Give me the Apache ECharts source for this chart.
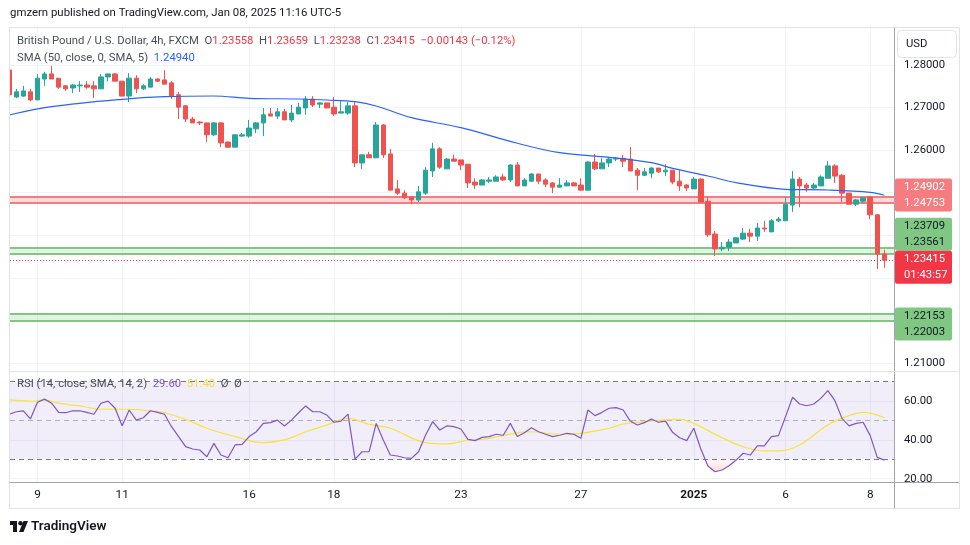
<!DOCTYPE html>
<html>
<head>
<meta charset="utf-8">
<script src="https://cdn.jsdelivr.net/npm/echarts@6.0.0/dist/echarts.min.js"></script>
<style>
html,body{margin:0;padding:0;background:#ffffff;}
#chart{width:970px;height:545px;}
</style>
</head>
<body>
<div id="chart"></div>
<script>
// ---------- DATA (GBP/USD 4h, FXCM) ----------
const firstIdx = -1;
const openP = [
1.2788,1.2725,1.2727,1.2737,1.2718,1.2767,1.2779,1.2769,1.2751,1.2746,
1.2751,1.2753,1.2751,1.2744,1.2772,1.2779,1.2762,1.2727,1.2769,1.2744,
1.2748,1.2767,1.2765,1.2758,1.2730,1.2704,1.2673,1.2666,1.2664,1.2636,
1.2664,1.2619,1.2607,1.2633,1.2633,1.2650,1.2664,1.2685,1.2680,1.2690,
1.2671,1.2685,1.2699,1.2720,1.2708,1.2711,1.2701,1.2687,1.2687,1.2704,
1.2570,1.2589,1.2582,1.2659,1.2591,1.2509,1.2499,1.2490,1.2483,1.2499,
1.2551,1.2603,1.2556,1.2579,1.2577,1.2567,1.2525,1.2518,1.2527,1.2527,
1.2537,1.2530,1.2565,1.2516,1.2527,1.2544,1.2530,1.2523,1.2513,1.2516,
1.2523,1.2518,1.2506,1.2572,1.2556,1.2570,1.2579,1.2581,1.2579,1.2553,
1.2541,1.2546,1.2558,1.2549,1.2553,1.2527,1.2518,1.2509,1.2532,1.2480,
1.2403,1.2368,1.2372,1.2382,1.2391,1.2405,1.2398,1.2417,1.2408,1.2434,
1.2434,1.2471,1.2532,1.2518,1.2511,1.2516,1.2534,1.2563,1.2541,1.2499,
1.2473,1.2480,1.2490,1.2448,1.23558];
const highP = [
1.2798,1.2744,1.2751,1.2744,1.2779,1.2784,1.2798,1.2769,1.2753,1.2755,
1.2762,1.2762,1.2762,1.2779,1.2779,1.2781,1.2762,1.2781,1.2776,1.2755,
1.2772,1.2769,1.2788,1.2762,1.2737,1.2706,1.2678,1.2668,1.2664,1.2666,
1.2666,1.2621,1.2636,1.2640,1.2671,1.2666,1.2699,1.2699,1.2699,1.2697,
1.2706,1.2711,1.2727,1.2727,1.2713,1.2711,1.2725,1.2715,1.2713,1.2713,
1.2589,1.2596,1.2666,1.2661,1.2603,1.2530,1.2506,1.2490,1.2516,1.2560,
1.2617,1.2607,1.2581,1.2589,1.2577,1.2567,1.2534,1.2532,1.2537,1.2541,
1.2544,1.2567,1.2572,1.2534,1.2546,1.2544,1.2534,1.2525,1.2534,1.2530,
1.2525,1.2534,1.2574,1.2591,1.2581,1.2584,1.2584,1.2589,1.2607,1.2558,
1.2558,1.2560,1.2558,1.2567,1.2553,1.2553,1.2520,1.2537,1.2534,1.2490,
1.2410,1.2384,1.2391,1.2396,1.2417,1.2415,1.2429,1.2434,1.2438,1.2443,
1.2490,1.2551,1.2537,1.2523,1.2523,1.2541,1.2574,1.2567,1.2544,1.2499,
1.2485,1.2490,1.2492,1.2450,1.23659];
const lowP = [
1.2722,1.2722,1.2725,1.2715,1.2718,1.2751,1.2767,1.2744,1.2739,1.2734,
1.2737,1.2744,1.2722,1.2744,1.2762,1.2762,1.2727,1.2713,1.2734,1.2741,
1.2748,1.2760,1.2755,1.2720,1.2673,1.2666,1.2664,1.2659,1.2619,1.2633,
1.2607,1.2605,1.2607,1.2631,1.2629,1.2640,1.2633,1.2680,1.2673,1.2671,
1.2666,1.2685,1.2683,1.2701,1.2699,1.2699,1.2680,1.2687,1.2683,1.2560,
1.2556,1.2582,1.2582,1.2582,1.2506,1.2495,1.2485,1.2473,1.2478,1.2495,
1.2537,1.2556,1.2556,1.2574,1.2553,1.2511,1.2509,1.2518,1.2523,1.2527,
1.2527,1.2525,1.2516,1.2516,1.2527,1.2520,1.2513,1.2499,1.2513,1.2516,
1.2516,1.2504,1.2506,1.2553,1.2556,1.2560,1.2574,1.2560,1.2551,1.2506,
1.2539,1.2534,1.2546,1.2539,1.2520,1.2504,1.2504,1.2509,1.2478,1.2396,
1.2351,1.2363,1.2363,1.2382,1.2389,1.2384,1.2387,1.2408,1.2408,1.2431,
1.2434,1.2455,1.2466,1.2502,1.2506,1.2516,1.2534,1.2523,1.2478,1.2473,
1.2469,1.2476,1.2438,1.2321,1.23238];
const closeP = [
1.2730,1.2737,1.2739,1.2718,1.2769,1.2779,1.2767,1.2748,1.2744,1.2753,
1.2753,1.2748,1.2744,1.2772,1.2779,1.2762,1.2727,1.2769,1.2744,1.2751,
1.2767,1.2762,1.2755,1.2727,1.2701,1.2673,1.2664,1.2664,1.2636,1.2664,
1.2617,1.2607,1.2636,1.2636,1.2652,1.2664,1.2683,1.2680,1.2690,1.2671,
1.2687,1.2701,1.2720,1.2706,1.2711,1.2699,1.2685,1.2690,1.2704,1.2570,
1.2589,1.2582,1.2659,1.2589,1.2506,1.2499,1.2488,1.2483,1.2502,1.2553,
1.2603,1.2560,1.2579,1.2574,1.2565,1.2523,1.2518,1.2530,1.2530,1.2537,
1.2530,1.2565,1.2516,1.2530,1.2544,1.2527,1.2520,1.2513,1.2518,1.2523,
1.2516,1.2506,1.2572,1.2556,1.2570,1.2579,1.2581,1.2574,1.2551,1.2541,
1.2549,1.2558,1.2549,1.2553,1.2525,1.2516,1.2511,1.2532,1.2478,1.2401,
1.2368,1.2372,1.2384,1.2394,1.2405,1.2398,1.2417,1.2415,1.2434,1.2438,
1.2473,1.2532,1.2516,1.2511,1.2518,1.2537,1.2563,1.2539,1.2499,1.2473,
1.2483,1.2488,1.2448,1.23558,1.23415];
const rsiVals = [
53.2,54.5,55,50.8,59.4,61,58.9,54.2,54,55,
55,54.2,53.2,58.9,60,56.3,47.3,55.4,50.2,51.4,
55,54.2,53.2,46.8,41.7,36.5,35.3,34.8,31.3,38.2,
32.2,30.8,37.4,37.7,41.7,44.2,48.5,48.9,50.2,47.2,
50.2,54,57.5,54.5,54.5,52.8,49.1,49.7,53.3,30.1,
33.9,33.9,48.5,40,32.2,31.7,30.8,30.5,33.9,42.5,
49.4,45.1,47.2,46.8,45.6,40.3,39.6,41.3,41.7,42.9,
42.4,48.5,41.7,43.7,46.3,44.2,42.9,41.7,42.4,43.4,
42.9,40.8,55.4,52.5,54.2,56.3,56.6,55.4,49.7,47.7,
48.9,50.8,49.1,49.7,43.9,41.1,39.6,46,35.3,26.5,
23.6,24.5,26.7,29.6,33.1,32.2,36.9,36.9,41.7,42.2,
52,62,58.5,57.6,58.5,61.4,65.4,60.2,51.1,47.2,
48.5,49.1,42.2,31,29.6];
const rsiSmaIdx  = [-1,2,4,6,9,12,16,19,21,24,27,31,35,38,41,44,47,50,53,58,61,64,66,69,71,73,77,80,84,86,89,94,96,100,103,106,108,111,115,118,120,123];
const rsiSmaVals = [60.6,60,60.6,58.9,57.5,55.8,55.8,54.9,54,50.6,46,41.7,38.6,40,44.2,47.7,51.1,48,46,38.6,37.9,39.8,40.2,42.2,43.7,44.2,42.9,43.4,46,48.2,49.4,50.6,48.5,41.1,36.5,34.3,34.3,37.4,47.7,52.5,54.2,51.4];
const smaIdx  = [-1,5,15,21,28,33,40,44,48,51,56,63,71,77,84,90,93,98,102,109,115,121,123];
const smaVals = [1.26826,1.27020,1.27194,1.27255,1.27272,1.27218,1.27201,1.27178,1.27138,1.27037,1.26762,1.26527,1.26161,1.25940,1.25832,1.25705,1.25573,1.25393,1.25235,1.25080,1.25064,1.25010,1.24940];
const xTickIdx  = [3,15,33,45,63,80,96,109,121];
const xTickText = ['9','11','16','18','23','27','2025','6','8'];
const priceTicks = [1.21,1.22,1.23,1.24,1.25,1.26,1.27,1.28];
const rsiTicks = [20,40,60];
const rsiLevels = [70,50,30];
const resistZone = [1.24902, 1.24753];
const supportZone1 = [1.23709, 1.23561];
const supportZone2 = [1.22153, 1.22003];
const countdown = '01:43:57';

// ---------- BUILD ----------
const FONT = 'Roboto, "Liberation Sans", Arial, sans-serif';
const FS = 11.3;
const UP = '#26a69a', DOWN = '#ef5350';
const barX = openP.map((_, i) => i + firstIdx);
const candles = barX.map((x, i) => [x, openP[i], closeP[i], lowP[i], highP[i]]);
const rsiData = barX.map((x, i) => [x, rsiVals[i]]);
const rsiSegs = barX.slice(0, -1).map((x, i) => [x, rsiVals[i], barX[i + 1], rsiVals[i + 1]]);
const rsiSmaData = rsiSmaIdx.map((x, i) => [x, rsiSmaVals[i]]);
const smaData = smaIdx.map((x, i) => [x, smaVals[i]]);
const last = closeP.length - 1;
const lastClose = closeP[last];
const chg = closeP[last] - closeP[last - 1];
const chgPct = chg / closeP[last - 1] * 100;
const sgn = (v, d) => (v < 0 ? '\u2212' : '+') + Math.abs(v).toFixed(d);

const X_MIN = -0.893, X_MAX = 124.37;
const gridLine = { show: true, lineStyle: { color: '#f0f3fa', width: 1 } };
const OS = rsiLevels[2];

const chart = echarts.init(document.getElementById('chart'), null, { renderer: 'canvas' });

const zoneLine = (v, color) => ({ yAxis: v, lineStyle: { color: color, width: 2, type: 'solid' } });
const legendStyle = (rich) => ({ fontSize: FS, color: '#4a4e59', fontWeight: 'normal', fontFamily: FONT, rich: rich });

function renderOversold(params, api) {
  const x0 = api.value(0), v0 = api.value(1), x1 = api.value(2), v1 = api.value(3);
  if (v0 >= OS && v1 >= OS) return null;
  let pts;
  if (v0 < OS && v1 < OS) pts = [[x0, OS], [x0, v0], [x1, v1], [x1, OS]];
  else if (v0 >= OS) { const xs = x0 + (OS - v0) / (v1 - v0) * (x1 - x0); pts = [[xs, OS], [x1, v1], [x1, OS]]; }
  else { const xs = x0 + (OS - v0) / (v1 - v0) * (x1 - x0); pts = [[x0, OS], [x0, v0], [xs, OS]]; }
  const top = api.coord([x0, OS])[1], bottom = api.coord([x0, 20])[1];
  return {
    type: 'polygon',
    shape: { points: pts.map(p => api.coord(p)) },
    style: { fill: new echarts.graphic.LinearGradient(0, top, 0, bottom, [
      { offset: 0, color: 'rgba(242,54,69,0.02)' }, { offset: 1, color: 'rgba(242,54,69,0.28)' }], true) }
  };
}

const option = {
  animation: false,
  backgroundColor: '#ffffff',
  textStyle: { fontFamily: FONT },
  title: [
    { left: 10, top: 8, padding: 0,
      text: 'gmzern published on TradingView.com, Jan 08, 2025 11:16 UTC-5',
      textStyle: { fontSize: 11.4, color: '#131722', fontWeight: 'normal', fontFamily: FONT } },
    { left: 17, top: 36, padding: 0,
      text: 'British Pound / U.S. Dollar, 4h, FXCM  O{r|' + openP[last].toFixed(5) + '}  H{r|' + highP[last].toFixed(5) +
            '}  L{r|' + lowP[last].toFixed(5) + '}  C{r|' + closeP[last].toFixed(5) + '}  {r|' + sgn(chg, 5) + ' (' + sgn(chgPct, 2) + '%)}',
      textStyle: legendStyle({ r: { color: '#f23645', fontSize: FS, fontFamily: FONT } }) },
    { left: 17, top: 53, padding: 0,
      text: 'SMA (50, close, 0, SMA, 5)  {b|' + smaVals[smaVals.length - 1].toFixed(5) + '}',
      textStyle: legendStyle({ b: { color: '#2962ff', fontSize: FS, fontFamily: FONT } }) },
    { left: 17, top: 379, padding: 0,
      text: 'RSI (14, close, SMA, 14, 2)  {p|' + rsiVals[last].toFixed(2) + '}  {y|' + rsiSmaVals[rsiSmaVals.length - 1].toFixed(2) + '}  \u00D8  \u00D8',
      textStyle: legendStyle({ p: { color: '#7e57c2', fontSize: FS, fontFamily: FONT }, y: { color: '#f2dc3c', fontSize: FS, fontFamily: FONT } }) }
  ],
  grid: [
    { left: 10, top: 28, width: 884, height: 343 },
    { left: 10, top: 371, width: 884, height: 111 }
  ],
  xAxis: [
    { type: 'value', gridIndex: 0, min: X_MIN, max: X_MAX,
      axisLine: { show: false, onZero: false }, axisLabel: { show: false },
      axisTick: { show: false, customValues: xTickIdx }, splitLine: gridLine },
    { type: 'value', gridIndex: 1, min: X_MIN, max: X_MAX,
      axisLine: { show: true, onZero: false, lineStyle: { color: '#a3a6af', width: 1 } },
      axisTick: { show: false, customValues: xTickIdx },
      axisLabel: { show: true, customValues: xTickIdx, margin: 7, fontSize: 11.8, color: '#131722', fontFamily: FONT,
        formatter: v => { const t = xTickText[xTickIdx.indexOf(Math.round(v))] || ''; return t.length === 4 ? '{b|' + t + '}' : t; },
        rich: { b: { fontWeight: 'bold', fontSize: 11.8, color: '#131722', fontFamily: FONT } } },
      splitLine: gridLine }
  ],
  yAxis: [
    { type: 'value', gridIndex: 0, position: 'right', min: 1.20812, max: 1.28869,
      axisLine: { show: true, onZero: false, lineStyle: { color: '#a3a6af', width: 1 } },
      axisTick: { show: false, customValues: priceTicks },
      axisLabel: { customValues: priceTicks, margin: 10, fontSize: FS, color: '#131722', fontFamily: FONT, formatter: v => v.toFixed(5) },
      splitLine: gridLine },
    { type: 'value', gridIndex: 1, position: 'right', min: 18.3, max: 75.5,
      axisLine: { show: true, onZero: false, lineStyle: { color: '#a3a6af', width: 1 } },
      axisTick: { show: false, customValues: rsiTicks },
      axisLabel: { customValues: rsiTicks, margin: 10, fontSize: FS, color: '#131722', fontFamily: FONT, formatter: v => v.toFixed(2) },
      splitLine: gridLine }
  ],
  series: [
    { name: 'SMA', type: 'line', xAxisIndex: 0, yAxisIndex: 0, data: smaData, smooth: 0.35,
      showSymbol: false, z: 4, lineStyle: { color: '#2962ff', width: 1.2 },
      markArea: { silent: true, z: 0, data: [
        [{ yAxis: resistZone[0], itemStyle: { color: 'rgba(242,54,69,0.18)' } }, { yAxis: resistZone[1] }],
        [{ yAxis: supportZone1[0], itemStyle: { color: 'rgba(76,175,80,0.16)' } }, { yAxis: supportZone1[1] }],
        [{ yAxis: supportZone2[0], itemStyle: { color: 'rgba(76,175,80,0.16)' } }, { yAxis: supportZone2[1] }]
      ] },
      markLine: { silent: true, z: 1, precision: 5, symbol: ['none', 'none'], label: { show: false }, data: [
        zoneLine(resistZone[0], '#f77c80'), zoneLine(resistZone[1], '#f77c80'),
        zoneLine(supportZone1[0], '#81c784'), zoneLine(supportZone1[1], '#81c784'),
        zoneLine(supportZone2[0], '#81c784'), zoneLine(supportZone2[1], '#81c784'),
        { yAxis: lastClose, lineStyle: { color: '#f23645', width: 1, type: [1, 2] } }
      ] } },
    { name: 'GBPUSD', type: 'candlestick', xAxisIndex: 0, yAxisIndex: 0, data: candles,
      encode: { x: 0, y: [1, 2, 3, 4] }, barWidth: 5, z: 3, clip: true,
      itemStyle: { color: UP, color0: DOWN, borderColor: UP, borderColor0: DOWN, borderWidth: 1 } },
    { name: 'RSI oversold', type: 'custom', xAxisIndex: 1, yAxisIndex: 1, data: rsiSegs, silent: true, z: 2,
      encode: { x: [0, 2], y: [1, 3] }, renderItem: renderOversold, clip: true },
    { name: 'RSI', type: 'line', xAxisIndex: 1, yAxisIndex: 1, data: rsiData, showSymbol: false, z: 4,
      lineStyle: { color: '#7e57c2', width: 1.2 },
      markArea: { silent: true, z: 0, data: [[{ yAxis: rsiLevels[0], itemStyle: { color: 'rgba(126,87,194,0.1)' } }, { yAxis: rsiLevels[2] }]] },
      markLine: { silent: true, z: 1, symbol: ['none', 'none'], label: { show: false }, data: [
        { yAxis: rsiLevels[0], lineStyle: { color: '#787b86', width: 1, type: [5, 4] } },
        { yAxis: rsiLevels[1], lineStyle: { color: 'rgba(120,123,134,0.55)', width: 1, type: [5, 4] } },
        { yAxis: rsiLevels[2], lineStyle: { color: '#787b86', width: 1, type: [5, 4] } }
      ] } },
    { name: 'RSI MA', type: 'line', xAxisIndex: 1, yAxisIndex: 1, data: rsiSmaData, smooth: 0.4, showSymbol: false, z: 3,
      lineStyle: { color: '#f7e43b', width: 1.2 } }
  ]
};
chart.setOption(option);

// ---------- PRICE-SCALE TAGS & DECORATION ----------
const py = v => chart.convertToPixel({ yAxisIndex: 0 }, v);
const TAG_X = 895, TAG_W = 57, TAG_H = 33;
function tag(yc, l1, l2, bg, fg) {
  return [
    { type: 'rect', z: 100, shape: { x: TAG_X, y: yc - TAG_H / 2, width: TAG_W, height: TAG_H, r: 2 }, style: { fill: bg } },
    { type: 'text', z: 101, style: { x: 904, y: yc - 8, text: l1, font: FS + 'px ' + FONT, fill: fg, verticalAlign: 'middle', align: 'left' } },
    { type: 'text', z: 101, style: { x: 904, y: yc + 8, text: l2, font: FS + 'px ' + FONT, fill: fg, verticalAlign: 'middle', align: 'left' } }
  ];
}
const g = [];
// frame & separators
g.push({ type: 'rect', z: 50, shape: { x: 9.5, y: 27.5, width: 950, height: 481 }, style: { fill: 'none', stroke: '#e0e3eb', lineWidth: 1 } });
g.push({ type: 'rect', z: 49, shape: { x: 0, y: 28, width: 9.5, height: 480 }, style: { fill: '#ffffff' } });
g.push({ type: 'line', z: 50, shape: { x1: 10, y1: 371.5, x2: 959, y2: 371.5 }, style: { stroke: '#e0e3eb', lineWidth: 1 } });
g.push({ type: 'line', z: 50, shape: { x1: 894, y1: 482.5, x2: 959, y2: 482.5 }, style: { stroke: '#a3a6af', lineWidth: 1 } });
g.push({ type: 'line', z: 50, shape: { x1: 894.5, y1: 482, x2: 894.5, y2: 508 }, style: { stroke: '#a3a6af', lineWidth: 1 } });
// USD button
g.push({ type: 'rect', z: 100, shape: { x: 897.5, y: 30.5, width: 59, height: 27, r: 4 }, style: { fill: '#ffffff', stroke: '#e0e3eb', lineWidth: 1 } });
g.push({ type: 'text', z: 101, style: { x: 906, y: 44, text: 'USD', font: FS + 'px ' + FONT, fill: '#131722', verticalAlign: 'middle' } });
// tags
g.push(...tag(py(resistZone[0]) - 2, resistZone[0].toFixed(5), resistZone[1].toFixed(5), '#f77c80', '#ffffff'));
g.push(...tag(py(supportZone1[0]) - 13.5, supportZone1[0].toFixed(5), supportZone1[1].toFixed(5), '#81c784', '#131722'));
g.push(...tag(py(lastClose) + 7, lastClose.toFixed(5), countdown, '#f23645', '#ffffff'));
g.push(...tag(py(supportZone2[0]) + 10, supportZone2[0].toFixed(5), supportZone2[1].toFixed(5), '#81c784', '#131722'));
// TradingView logo
g.push({ type: 'rect', z: 100, shape: { x: 10, y: 521, width: 7, height: 4 }, style: { fill: '#131722' } });
g.push({ type: 'rect', z: 100, shape: { x: 13, y: 521, width: 4, height: 11 }, style: { fill: '#131722' } });
g.push({ type: 'circle', z: 100, shape: { cx: 20.5, cy: 523.2, r: 2.2 }, style: { fill: '#131722' } });
g.push({ type: 'polygon', z: 100, shape: { points: [[19, 532], [23.5, 521], [28, 521], [23.5, 532]] }, style: { fill: '#131722' } });
g.push({ type: 'text', z: 100, style: { x: 31, y: 527, text: 'TradingView', font: '600 13.5px ' + FONT, fill: '#131722', verticalAlign: 'middle' } });

chart.setOption({ graphic: g });
</script>
</body>
</html>
